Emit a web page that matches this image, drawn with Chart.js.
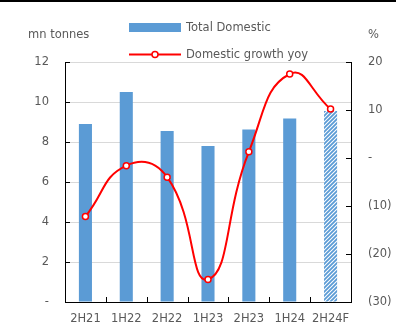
<!DOCTYPE html>
<html>
<head>
<meta charset="utf-8">
<script src="https://cdn.jsdelivr.net/npm/chart.js@4"></script>
<style>
  html, body { margin: 0; padding: 0; background: #fff; }
  #wrap { position: relative; width: 400px; height: 331px; }
  #topline { position: absolute; left: 0; top: 0; width: 396px; height: 2px; background: #000; }
</style>
</head>
<body>
<div id="wrap">
  <canvas id="chart" width="400" height="331"></canvas>
  <div id="topline"></div>
</div>
<script>
const periods = ['2H21', '1H22', '2H22', '1H23', '2H23', '1H24', '2H24F'];
const totalDomestic = [8.9, 10.5, 8.55, 7.8, 8.63, 9.18, 9.55];
const growthYoy = [-12.2, -1.6, -4.0, -25.3, 1.3, 17.5, 10.2];

const FONT = '"DejaVu Sans", sans-serif';
const SIZE = 11.5;
const TEXT = '#595959';
const BLUE = '#5B9BD5';
const RED = '#FF0000';

// diagonal stripes for the forecast bar
function stripes() {
    const c = document.createElement('canvas');
    c.width = 4; c.height = 4;
    const g = c.getContext('2d');
    g.fillStyle = '#fff';
    g.fillRect(0, 0, 4, 4);
    g.strokeStyle = BLUE;
    g.lineWidth = 1.8;
    g.beginPath();
    g.moveTo(-1, 5); g.lineTo(5, -1);
    g.moveTo(-1, 1); g.lineTo(1, -1);
    g.moveTo(3, 5); g.lineTo(5, 3);
    g.stroke();
    return g.createPattern(c, 'repeat');
}

const barColors = totalDomestic.map((v, i) => i === periods.length - 1 ? stripes() : BLUE);

// inward tick marks, legend and axis titles
const extras = {
    id: 'extras',
    afterDraw(chart) {
        const ctx = chart.ctx;
        const { y, y1 } = chart.scales;
        const area = chart.chartArea;
        ctx.save();
        ctx.strokeStyle = '#000';
        ctx.lineWidth = 1;
        ctx.beginPath();
        y.ticks.forEach(t => {
            const py = Math.round(y.getPixelForValue(t.value)) + 0.5;
            ctx.moveTo(area.left, py); ctx.lineTo(area.left + 5, py);
        });
        y1.ticks.forEach(t => {
            const py = Math.round(y1.getPixelForValue(t.value)) + 0.5;
            ctx.moveTo(area.right, py); ctx.lineTo(area.right - 5, py);
        });
        const step = (area.right - area.left) / periods.length;
        for (let i = 1; i < periods.length; i++) {
            const px = Math.round(area.left + step * i) + 0.5;
            ctx.moveTo(px, area.bottom); ctx.lineTo(px, area.bottom - 5);
        }
        ctx.stroke();

        ctx.font = SIZE + 'px ' + FONT;
        ctx.fillStyle = TEXT;
        ctx.textBaseline = 'middle';
        ctx.textAlign = 'left';
        ctx.fillText('mn tonnes', 28, 35);
        ctx.fillText('%', 368, 35);

        // legend
        ctx.fillStyle = BLUE;
        ctx.fillRect(129, 23, 52, 9);
        ctx.fillStyle = TEXT;
        ctx.fillText('Total Domestic', 186, 28);
        ctx.strokeStyle = RED;
        ctx.lineWidth = 2;
        ctx.beginPath();
        ctx.moveTo(129, 54.5); ctx.lineTo(181, 54.5);
        ctx.stroke();
        ctx.beginPath();
        ctx.arc(155, 54.5, 3, 0, Math.PI * 2);
        ctx.fillStyle = '#fff';
        ctx.fill();
        ctx.lineWidth = 1.5;
        ctx.stroke();
        ctx.fillStyle = TEXT;
        ctx.fillText('Domestic growth yoy', 186, 55);
        ctx.restore();
    }
};

new Chart(document.getElementById('chart'), {
    data: {
        labels: periods,
        datasets: [
            {
                type: 'line',
                label: 'Domestic growth yoy',
                data: growthYoy,
                yAxisID: 'y1',
                borderColor: RED,
                borderWidth: 2,
                tension: 0.5,
                pointRadius: 3,
                pointBorderWidth: 1.5,
                pointBackgroundColor: '#fff',
                pointBorderColor: RED,
                order: 0
            },
            {
                type: 'bar',
                label: 'Total Domestic',
                data: totalDomestic,
                yAxisID: 'y',
                backgroundColor: barColors,
                categoryPercentage: 1,
                barPercentage: 0.32,
                order: 1
            }
        ]
    },
    options: {
        responsive: false,
        animation: false,
        layout: { padding: { top: 62, left: 0, right: 0, bottom: 0 } },
        plugins: { legend: { display: false }, tooltip: { enabled: false } },
        scales: {
            x: {
                grid: { display: false, drawTicks: false },
                border: { color: '#000', width: 1 },
                ticks: { color: TEXT, font: { family: FONT, size: SIZE }, padding: 10, maxRotation: 0 },
                afterFit: s => { s.height = 29; }
            },
            y: {
                position: 'left',
                min: 0, max: 12,
                ticks: {
                    stepSize: 2, color: TEXT, font: { family: FONT, size: SIZE }, padding: 16,
                    callback: v => v === 0 ? '-' : v
                },
                grid: { color: '#D9D9D9', drawTicks: false },
                border: { color: '#000', width: 1 },
                afterFit: s => { s.width = 65; }
            },
            y1: {
                position: 'right',
                min: -30, max: 20,
                ticks: {
                    stepSize: 10, color: TEXT, font: { family: FONT, size: SIZE }, padding: 17,
                    callback: v => v === 0 ? '-' : v < 0 ? '(' + (-v) + ')' : v
                },
                grid: { drawOnChartArea: false, drawTicks: false },
                border: { color: '#000', width: 1 },
                afterFit: s => { s.width = 49; }
            }
        }
    },
    plugins: [extras]
});
</script>
</body>
</html>
